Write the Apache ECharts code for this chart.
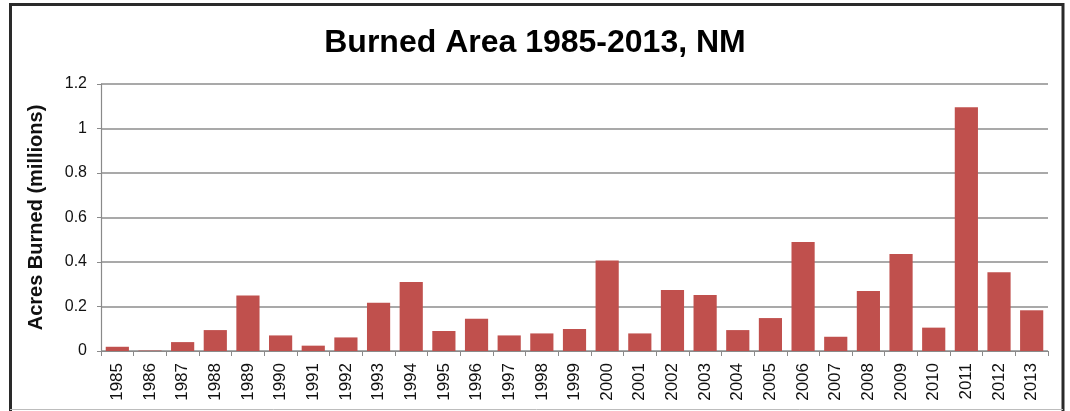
<!DOCTYPE html>
<html>
<head>
<meta charset="utf-8">
<script src="https://cdn.jsdelivr.net/npm/echarts@6/dist/echarts.min.js"></script>
<style>
html,body{margin:0;padding:0;background:#fff;}
#chart{width:1070px;height:411px;}
</style>
</head>
<body>
<div id="chart"></div>
<script>
const years = ['1985','1986','1987','1988','1989','1990','1991','1992','1993','1994','1995','1996','1997','1998','1999','2000','2001','2002','2003','2004','2005','2006','2007','2008','2009','2010','2011','2012','2013'];
const acresMillions = [0.019,0.002,0.040,0.094,0.249,0.070,0.024,0.061,0.217,0.310,0.090,0.145,0.070,0.079,0.099,0.407,0.079,0.274,0.252,0.094,0.148,0.490,0.064,0.270,0.436,0.105,1.095,0.354,0.183];
const titleText = 'Burned Area 1985-2013, NM';
const yAxisTitle = 'Acres Burned (millions)';

const chart = echarts.init(document.getElementById('chart'), null, {renderer:'canvas'});
chart.setOption({
  backgroundColor:'#fff',
  animation:false,
  title:{
    text:titleText,
    left:'center',
    top:22,
    textStyle:{fontFamily:'Liberation Sans, Arial, sans-serif',fontWeight:'bold',fontSize:32,color:'#000'}
  },
  grid:{left:101,right:22,top:84,bottom:60,containLabel:false},
  xAxis:{
    type:'category',
    data:years,
    boundaryGap:true,
    axisLine:{lineStyle:{color:'#8a8a8a',width:1.2}},
    axisTick:{show:true,alignWithLabel:false,length:5,lineStyle:{color:'#8a8a8a'}},
    axisLabel:{rotate:90,interval:0,margin:12,fontFamily:'Liberation Sans, Arial, sans-serif',fontSize:17,color:'#111'}
  },
  yAxis:{
    type:'value',
    min:0,max:1.2,interval:0.2,
    name:yAxisTitle,
    nameLocation:'middle',
    nameGap:55,
    nameTextStyle:{fontFamily:'Liberation Sans, Arial, sans-serif',fontWeight:'bold',fontSize:20,color:'#111'},
    axisLine:{show:true,lineStyle:{color:'#8a8a8a',width:1.2}},
    axisTick:{show:true,length:4,lineStyle:{color:'#8a8a8a'}},
    axisLabel:{margin:14,fontFamily:'Liberation Sans, Arial, sans-serif',fontSize:16,color:'#111',
      formatter:function(v){return String(Math.round(v*10)/10);}},
    splitLine:{show:true,lineStyle:{color:'#8c8c8c',width:1.5}}
  },
  series:[{
    type:'bar',
    data:acresMillions,
    barWidth:'71%',
    itemStyle:{color:'#C0504D'}
  }],
  graphic:[
    {type:'polyline',shape:{points:[[10.5,420],[10.5,4.5],[1063,4.5],[1063,420]]},style:{stroke:'#2a2a2a',lineWidth:3,fill:null},z:100},
    {type:'line',shape:{x1:10,y1:409.5,x2:1063,y2:409.5},style:{stroke:'#bdbdbd',lineWidth:1},z:100}
  ]
});
</script>
</body>
</html>
